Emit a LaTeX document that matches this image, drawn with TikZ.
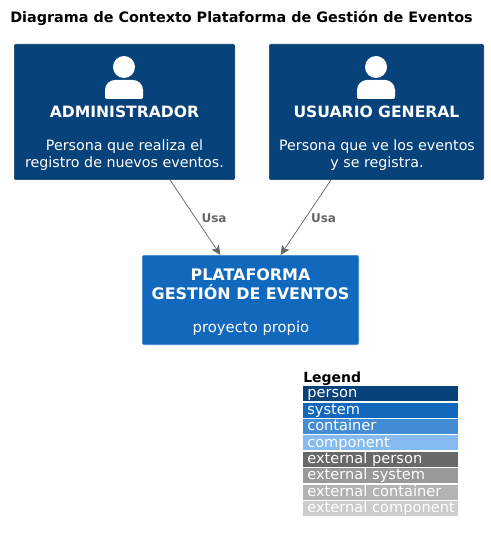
\documentclass[tikz,border=0pt]{standalone}
\usepackage{fontspec}
\usepackage{xcolor}
\usepackage{tikz}
\usetikzlibrary{arrows.meta,positioning,calc}
\setmainfont{DejaVu Sans}
\definecolor{personblue}{HTML}{08427B}
\definecolor{systemblue}{HTML}{1168BD}
\definecolor{containerblue}{HTML}{438DD5}
\definecolor{componentblue}{HTML}{85BBF0}
\definecolor{extperson}{HTML}{686868}
\definecolor{extsystem}{HTML}{999999}
\definecolor{extcontainer}{HTML}{B3B3B3}
\definecolor{extcomponent}{HTML}{CCCCCC}
\definecolor{arrowgray}{HTML}{666666}

\begin{document}
\begin{tikzpicture}[
    x=0.75pt, y=-0.75pt,
    node distance=0.75pt,
    box/.style={rectangle, draw, rounded corners=1.5pt, line width=0.5pt, inner sep=0pt, minimum height=101.5pt},
    personbox/.style={box, fill=personblue, draw=personblue!85!black},
    systembox/.style={box, fill=systemblue, draw=containerblue, minimum height=67pt, minimum width=162.25pt},
    boxname/.style={text=white, align=center, font=\fontsize{11.7}{14.25}\selectfont\bfseries},
    boxdesc/.style={text=white, align=center, font=\fontsize{10.7}{12.75}\selectfont},
    icon/.style={fill=white, draw=none},
    arrow/.style={-{Stealth[length=7pt,width=6.5pt,inset=1.5pt]}, draw=arrowgray, fill=arrowgray, line width=0.5pt},
    rellabel/.style={text=arrowgray, font=\fontsize{9}{11}\selectfont\bfseries},
    legendrow/.style={rectangle, text width=116.25pt, inner xsep=0pt, inner ysep=0pt, text height=8.75pt, text depth=2.4pt, align=left, text=white, font=\fontsize{10.95}{12}\selectfont, execute at begin node={\hspace*{3pt}}}
]
\useasboundingbox (0,0) rectangle (490,541);

\node[anchor=west, inner sep=0pt, font=\fontsize{10.77}{12}\selectfont\bfseries] (title) at (10,18) {Diagrama de Contexto Plataforma de Gestión de Eventos};

% people
\node[personbox, minimum width=165.25pt] (admin) at (124.5,112) {};
\node[personbox, minimum width=160.75pt] (user) at (376.5,112) {};
\node[systembox] (plat) at (250.5,300) {};

% icons
\fill[icon] (124,67) circle (11);
\fill[icon, rounded corners=1.5pt] (105,99) -- (105,92) .. controls (105,84) and (110,80) .. (117,80) -- (131,80) .. controls (138,80) and (143,84) .. (143,92) -- (143,99) -- cycle;
\fill[icon] (376,67) circle (11);
\fill[icon, rounded corners=1.5pt] (357,99) -- (357,92) .. controls (357,84) and (362,80) .. (369,80) -- (383,80) .. controls (390,80) and (395,84) .. (395,92) -- (395,99) -- cycle;

\node[boxname] (adminname) at (124.5,112) {ADMINISTRADOR};
\node[boxdesc] (admindesc) at (124.5,155) {Persona que realiza el\\registro de nuevos eventos.};
\node[boxname] (username) at (376.5,112) {USUARIO GENERAL};
\node[boxdesc] (userdesc) at (377,155) {Persona que ve los eventos\\y se registra.};
\node[boxname, font=\fontsize{11.95}{14.25}\selectfont\bfseries] (platname) at (250.5,284.5) {PLATAFORMA\\GESTIÓN DE EVENTOS};
\node[boxdesc, font=\fontsize{11.1}{12.75}\selectfont] (platdesc) at (251,328) {proyecto propio};

\draw[arrow] (admin) -- (plat);
\draw[arrow] (user) -- (plat);
\node[rellabel] (usaleft) at (214,218) {Usa};
\node[rellabel] (usaright) at (323.5,218) {Usa};

% legend
\node[legendrow, fill=personblue, anchor=north west] (lperson) at (303,386) {person};
\node[legendrow, fill=systemblue, below=of lperson] (lsystem) {system};
\node[legendrow, fill=containerblue, below=of lsystem] (lcontainer) {container};
\node[legendrow, fill=componentblue, below=of lcontainer] (lcomponent) {component};
\node[legendrow, fill=extperson, below=of lcomponent] (lextperson) {external person};
\node[legendrow, fill=extsystem, below=of lextperson] (lextsystem) {external system};
\node[legendrow, fill=extcontainer, below=of lextsystem] (lextcontainer) {external container};
\node[legendrow, fill=extcomponent, below=of lextcontainer] (lextcomponent) {external component};
\node[anchor=south west, inner sep=0pt, font=\fontsize{10.5}{12}\selectfont\bfseries] (legend) at (303,385.5) {Legend};
\end{tikzpicture}
\end{document}
